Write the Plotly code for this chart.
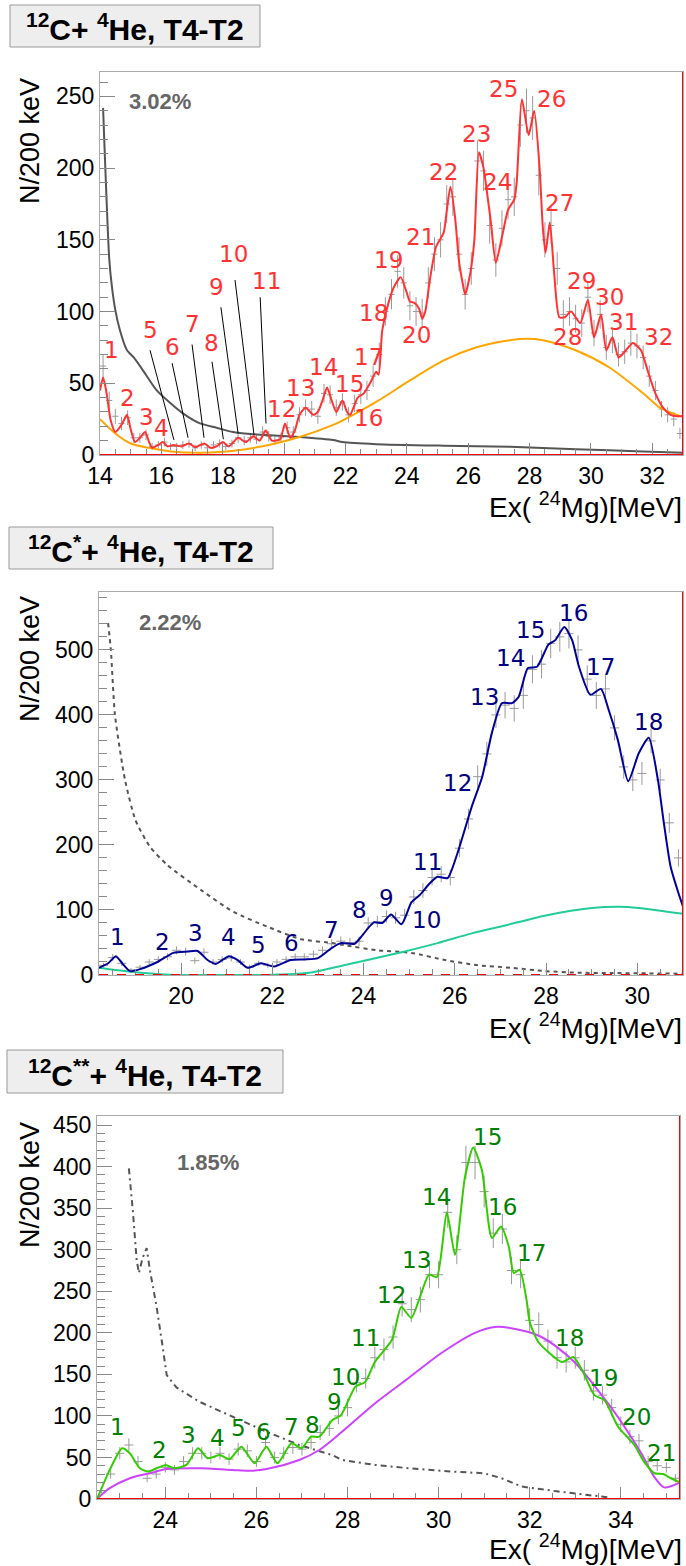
import numpy as np
import plotly.graph_objects as go

W, H = 686, 1566

# ---------------- Panel 1 : 12C + 4He ----------------
p1_bins = np.round(np.arange(14.1, 33.0, 0.2), 2)
p1_counts = [62, 38, 27, 22, 26, 12, 12, 14, 6, 7,
             9, 6, 6, 7, 8, 5, 7, 5, 7, 8,
             6, 8, 12, 10, 12, 11, 16, 13, 10, 12,
             19, 16, 28, 33, 32, 27, 43, 42, 33, 37,
             28, 36, 42, 45, 55, 70, 100, 112, 128, 120,
             104, 100, 99, 120, 140, 150, 175, 180, 140, 112,
             130, 205, 198, 160, 136, 158, 178, 180, 230, 240,
             235, 195, 150, 160, 130, 98, 100, 95, 92, 110,
             85, 98, 75, 80, 70, 72, 78, 76, 68, 55,
             45, 32, 28, 25, 15]
p1_fit_x = [14.0, 14.1, 14.2, 14.35, 14.5, 14.7, 14.88, 15.0, 15.14, 15.3, 15.47, 15.6, 15.7, 15.9,
            16.05, 16.2, 16.4, 16.65, 16.9, 17.1, 17.4, 17.6, 17.8, 18.0, 18.2, 18.5, 18.75, 19.0,
            19.2, 19.4, 19.6, 19.87, 20.03, 20.2, 20.35, 20.5, 20.7, 20.95, 21.1, 21.25, 21.4, 21.55,
            21.7, 21.9, 22.05, 22.15, 22.4, 22.6, 22.8, 23.0, 23.08, 23.2, 23.4, 23.6, 23.8, 24.0,
            24.1, 24.25, 24.4, 24.5, 24.6, 24.75, 24.95, 25.2, 25.3, 25.42, 25.57, 25.7, 25.8, 25.9,
            26.07, 26.2, 26.35, 26.5, 26.6, 26.74, 26.9, 27.1, 27.3, 27.5, 27.58, 27.75, 27.97, 28.15,
            28.33, 28.43, 28.52, 28.66, 28.8, 28.97, 29.15, 29.35, 29.65, 29.9, 30.1, 30.33, 30.5,
            30.7, 30.9, 31.1, 31.37, 31.63, 31.86, 32.1, 32.35, 32.6, 32.8, 33.0]
p1_fit_y = [45, 54, 45, 24, 16, 21, 28, 18, 9, 12, 16, 9, 5, 7,
            9, 6, 7, 6, 8, 5.5, 8, 5, 6, 9, 6, 12, 9, 13,
            10, 17, 10, 11, 22, 12, 17, 28, 33, 28, 30, 38, 47, 38,
            30, 38, 30, 28, 40, 43, 50, 58, 56, 87, 106, 118, 124, 113,
            107, 106, 102, 95, 100, 122, 145, 155, 170, 187, 166, 135, 122, 112,
            127, 150, 211, 200, 185, 162, 134, 152, 171, 178, 190, 248, 223, 240,
            199, 159, 141, 162, 127, 96, 96, 100, 92, 108, 82, 98, 73,
            82, 68, 72, 78, 73, 58, 43, 33, 28, 27, 27]
p1_bg_x = [14.0, 14.5, 15.0, 15.6, 16.3, 17.26, 18.56, 19.5, 20.5, 21.6, 21.9, 23.0, 24.1, 25.2,
           26.25, 27.36, 27.9, 28.44, 29.5, 30.6, 31.7, 32.25, 32.8, 33.0]
p1_bg_y = [25, 15, 8, 5, 2.5, 1.5, 3.5, 7, 12.5, 21, 24, 37, 52, 66,
           75, 80, 81, 80, 73, 61, 43, 33, 28, 27]
p1_gray_x = [14.1, 14.3, 14.39, 14.5, 14.65, 14.88, 15.1, 15.4, 15.85, 16.3, 16.7, 17.26, 17.8,
             18.33, 18.9, 19.4, 20.5, 21.6, 21.9, 23.0, 25.2, 27.36, 29.5, 31.7, 33.0]
p1_gray_y = [242, 137, 117, 101, 87, 73, 68, 59, 45, 36, 29, 22, 19,
             16, 14.6, 14, 12.6, 10.5, 9, 7.5, 6.5, 5.8, 4, 2.5, 1.5]
p1_labels = [str(i) for i in range(1, 33)]
p1_lab_x = [14.36, 14.88, 15.5, 16.02, 15.63, 16.35, 17.03, 17.62, 17.81, 18.34, 19.44, 19.93,
            20.52, 21.27, 22.12, 22.74, 22.74, 22.9, 23.39, 24.3, 24.43, 25.18, 26.26, 26.97,
            27.14, 28.73, 28.99, 29.22, 29.68, 30.62, 31.05, 32.19]
p1_lab_y = [73, 40, 26.5, 19, 87, 75, 91, 78, 117, 140, 121, 32,
            47, 61, 49.5, 26, 68, 99, 136, 84, 152, 197, 224, 190,
            255, 248, 176, 82, 121, 110, 93, 82]
# pointer lines for labels 5..11: (x_top, y_top, x_bottom, y_bottom)
p1_ptr = [(15.63, 73, 16.41, 10.5), (16.35, 64, 16.87, 12), (17.0, 77, 17.39, 12),
          (17.65, 65, 18.02, 11), (17.94, 103, 18.5, 15), (18.4, 122, 19.02, 14),
          (19.22, 110, 19.41, 22)]

# ---------------- Panel 2 : 12C* + 4He ----------------
p2_bins = np.round(np.arange(18.3, 31.0, 0.2), 2)
p2_counts = [15, 27, 18, 8, 12, 20, 24, 28, 38, 36,
             22, 35, 20, 24, 26, 20, 12, 18, 15, 20,
             24, 28, 28, 32, 38, 48, 52, 50, 52, 80,
             82, 90, 88, 92, 120, 130, 150, 155, 150, 195,
             240, 305, 340, 400, 415, 410, 430, 470, 478, 510,
             520, 525, 500, 455, 430, 440, 380, 320, 300, 310,
             360, 300, 234, 180]
p2_fit_x = [18.2, 18.4, 18.57, 18.72, 18.88, 19.1, 19.48, 19.83, 20.14, 20.36, 20.58, 20.76, 21.05,
            21.24, 21.46, 21.75, 22.04, 22.4, 22.7, 23.0, 23.29, 23.5, 23.8, 23.95, 24.12, 24.23,
            24.41, 24.6, 24.83, 25.05, 25.23, 25.45, 25.62, 25.84, 26.06, 26.37, 26.6, 26.81, 27.03,
            27.25, 27.4, 27.6, 27.8, 28.05, 28.2, 28.4, 28.57, 28.72, 28.97, 29.2, 29.37, 29.57,
            29.8, 30.03, 30.25, 30.45, 30.58, 30.73, 30.9, 31.0]
p2_fit_y = [11, 18, 29, 17, 6, 9, 20, 34, 36, 37, 23, 17, 29,
            23, 11, 18, 13, 23, 24, 26, 41, 49, 48, 59, 74, 81,
            80, 93, 78, 112, 123, 141, 151, 149, 188, 259, 305, 372, 418,
            418, 428, 472, 474, 508, 515, 535, 515, 474, 431, 440, 408, 362,
            298, 341, 365, 300, 234, 166, 126, 105]
p2_bg_x = [18.2, 18.88, 19.76, 20.5, 21.5, 22.04, 22.85, 23.57, 24.83, 25.62, 26.37, 27.03, 28.02,
           29.0, 29.6, 30.03, 31.0]
p2_bg_y = [11, 5, 0.5, 0, 0, 0.5, 4, 15, 35, 49, 64, 75, 92,
           103, 105, 103, 94]
p2_gray_x = [18.4, 18.46, 18.55, 18.77, 19.0, 19.32, 19.7, 20.43, 21.15, 21.9, 22.63, 23.35, 23.57,
             24.3, 25.05, 25.78, 26.5, 27.25, 27.98, 28.7, 29.45, 31.0]
p2_gray_y = [541, 500, 400, 300, 238, 197, 169, 131, 97, 74, 55, 49, 46,
             38, 34, 23, 15, 11, 6, 3.5, 3, 2]
p2_labels = [str(i) for i in range(1, 19)]
p2_lab_x = [18.6, 19.59, 20.31, 21.04, 21.7, 22.41, 23.29, 23.9, 24.5, 25.38, 25.4, 26.06,
            26.66, 27.21, 27.65, 28.6, 29.19, 30.25]
p2_lab_y = [58, 51, 65, 58, 46, 49, 69, 100, 118, 85, 174, 295,
            428, 488, 531, 557, 474, 389]

# ---------------- Panel 3 : 12C** + 4He ----------------
p3_bins = np.round(np.arange(22.6, 35.3, 0.2), 2)
p3_counts = [10, 30, 55, 65, 45, 25, 30, 38, 35, 45,
             55, 55, 50, 55, 48, 60, 58, 45, 68, 50,
             55, 62, 60, 68, 80, 85, 100, 110, 140, 145,
             170, 180, 195, 235, 228, 240, 270, 270, 345, 300,
             405, 405, 370, 320, 325, 275, 270, 215, 210, 190,
             170, 165, 170, 155, 130, 125, 110, 90, 75, 70,
             45, 40, 38, 25]
p3_fit_x = [22.5, 22.78, 23.05, 23.22, 23.44, 23.62, 23.81, 24.01, 24.2, 24.46, 24.72, 24.93, 25.19,
            25.41, 25.67, 25.96, 26.22, 26.46, 26.77, 26.99, 27.2, 27.38, 27.67, 27.86, 28.17, 28.39,
            28.6, 28.98, 29.18, 29.4, 29.59, 29.79, 29.96, 30.18, 30.36, 30.58, 30.76, 30.95, 31.17,
            31.37, 31.54, 31.65, 31.78, 31.93, 32.0, 32.19, 32.7, 32.96, 33.18, 33.42, 33.64, 33.94,
            34.17, 34.3, 34.51, 34.74, 34.93, 35.1, 35.3]
p3_fit_y = [0, 35, 61, 55, 37, 33, 37, 41, 37, 41, 61, 49, 53,
            48, 63, 43, 63, 43, 67, 61, 75, 75, 95, 101, 135, 141,
            165, 192, 231, 218, 243, 270, 267, 345, 294, 388, 423, 396, 314,
            328, 304, 272, 276, 240, 213, 189, 165, 171, 152, 125, 119, 87,
            73, 65, 45, 31, 30, 25, 20]
p3_bg_x = [22.5, 22.78, 23.22, 23.66, 24.03, 24.75, 25.48, 25.85, 26.22, 26.94, 27.38, 27.88, 28.6,
           29.35, 30.07, 30.8, 31.23, 31.54, 32.26, 32.98, 33.72, 34.08, 34.45, 34.73, 34.95, 35.3]
p3_bg_y = [0, 13, 25, 31, 36, 37, 35, 34, 36, 47, 59, 81, 115,
           146, 176, 200, 207, 206, 195, 165, 115, 87, 55, 27, 14, 20]
p3_gray_x = [23.2, 23.29, 23.37, 23.42, 23.5, 23.59, 23.66, 23.77, 23.81, 23.95, 24.03, 24.25, 24.75,
             25.48, 26.22, 26.94, 27.66, 27.88, 28.6, 29.35, 30.29, 31.0, 31.38, 31.82, 32.63, 33.72]
p3_gray_y = [398, 345, 288, 272, 290, 302, 276, 242, 231, 180, 149, 134, 117,
             99, 81, 65, 53, 47, 41, 37, 33, 31, 25, 15, 9, 2]
p3_labels = [str(i) for i in range(1, 22)]
p3_lab_x = [22.94, 23.88, 24.51, 25.15, 25.61, 26.15, 26.77, 27.23, 27.71, 27.95, 28.39, 28.96,
            29.52, 29.96, 31.08, 31.41, 32.04, 32.87, 33.62, 34.34, 34.89]
p3_lab_y = [87, 59, 77, 73, 86, 81, 87, 89, 117, 147, 194, 245,
            288, 363, 436, 352, 296, 194, 146, 99, 55]

titles = ["<sup>12</sup>C+ <sup>4</sup>He, T4-T2",
          "<sup>12</sup>C<sup>*</sup>+ <sup>4</sup>He, T4-T2",
          "<sup>12</sup>C<sup>**</sup>+ <sup>4</sup>He, T4-T2"]
percents = ["3.02%", "2.22%", "1.85%"]

# ---------------- layout geometry (pixels) ----------------
panels = [
    dict(left=100, right=683, top=72, bottom=455, xr=[14, 33], yr=[0, 267], ydt=50, ymin=10,
         box=(10, 5, 260, 47), pct=(160, 101), ytc=141, xtc=505, zero_dash="solid"),
    dict(left=99, right=683, top=592, bottom=975, xr=[18.2, 31.0], yr=[0, 589], ydt=100, ymin=20,
         box=(9, 527, 273, 569), pct=(170, 623), ytc=659, xtc=1026, zero_dash="dash"),
    dict(left=97, right=680, top=1116, bottom=1499, xr=[22.5, 35.3], yr=[0, 461], ydt=50, ymin=10,
         box=(7, 1050, 283, 1093), pct=(208, 1162), ytc=1185, xtc=1547, zero_dash="solid"),
]

def px(x, y):
    return x / W, 1 - y / H

fig = go.Figure()
layout = dict(width=W, height=H, margin=dict(l=0, r=0, t=0, b=0, pad=0, autoexpand=False),
              paper_bgcolor="white", plot_bgcolor="white", showlegend=False)
shapes, annots = [], []

series = [
    (p1_bins, p1_counts, p1_fit_x, p1_fit_y, p1_bg_x, p1_bg_y, p1_gray_x, p1_gray_y,
     p1_labels, p1_lab_x, p1_lab_y),
    (p2_bins, p2_counts, p2_fit_x, p2_fit_y, p2_bg_x, p2_bg_y, p2_gray_x, p2_gray_y,
     p2_labels, p2_lab_x, p2_lab_y),
    (p3_bins, p3_counts, p3_fit_x, p3_fit_y, p3_bg_x, p3_bg_y, p3_gray_x, p3_gray_y,
     p3_labels, p3_lab_x, p3_lab_y),
]
fit_colors = ["#ff3333", "#000099", "#33cc00"]
lab_colors = ["#ff3333", "#000080", "#008000"]
bg_colors = ["#ffa500", "#22cc99", "#cc44ff"]
gray_styles = [dict(dash="solid", shape="spline"), dict(dash="4px,4px", shape="spline"),
               dict(dash="6px,4px,2px,4px", shape="linear")]
LAB_FONT = "DejaVu Sans"
TXT_FONT = "Liberation Sans, Arial, sans-serif"

for i, (pn, s) in enumerate(zip(panels, series)):
    bins, counts, fx, fy, bx, by, gx, gy, labs, lx, ly = s
    n = "" if i == 0 else str(i + 1)
    xa, ya = "x" + n, "y" + n
    counts = np.array(counts, dtype=float)
    fig.add_trace(go.Scatter(
        x=bins, y=counts, mode="markers", xaxis=xa, yaxis=ya,
        marker=dict(size=1, color="rgba(0,0,0,0)"),
        error_x=dict(type="constant", value=0.1, thickness=1, width=0, color="#999999"),
        error_y=dict(type="data", array=np.sqrt(counts), thickness=1, width=0, color="#999999"),
        hoverinfo="skip"))
    fig.add_trace(go.Scatter(x=gx, y=gy, mode="lines", xaxis=xa, yaxis=ya,
                             line=dict(color="#555555", width=2, dash=gray_styles[i]["dash"],
                                       shape=gray_styles[i]["shape"], smoothing=0.6)))
    fig.add_trace(go.Scatter(x=bx, y=by, mode="lines", xaxis=xa, yaxis=ya,
                             line=dict(color=bg_colors[i], width=2, shape="spline", smoothing=0.8)))
    fig.add_trace(go.Scatter(x=fx, y=fy, mode="lines", xaxis=xa, yaxis=ya,
                             line=dict(color=fit_colors[i], width=2, shape="spline", smoothing=0.6)))

    x0, y0 = px(pn["left"], pn["bottom"])
    x1, y1 = px(pn["right"], pn["top"])
    axis_common = dict(showline=True, linecolor="#aaaaaa", linewidth=1, mirror=True,
                       ticks="inside", tickcolor="#888888", showgrid=False, zeroline=False,
                       automargin=False,
                       tickfont=dict(family=TXT_FONT, size=23, color="black"))
    layout["xaxis" + n] = dict(axis_common, domain=[x0, x1], range=pn["xr"], anchor=ya,
                               dtick=2, ticklen=12,
                               minor=dict(dtick=0.5, ticklen=6, ticks="inside", tickcolor="#888888"))
    layout["yaxis" + n] = dict(axis_common, domain=[y0, y1], range=pn["yr"], anchor=xa,
                               dtick=pn["ydt"], ticklen=15,
                               minor=dict(dtick=pn["ymin"], ticklen=8, ticks="inside", tickcolor="#888888"))
    # red right edge and zero line
    shapes.append(dict(type="line", xref=xa, yref=ya + " domain", x0=pn["xr"][1], x1=pn["xr"][1],
                       y0=0, y1=1, line=dict(color="red", width=2)))
    shapes.append(dict(type="line", xref=xa, yref=ya, x0=pn["xr"][0], x1=pn["xr"][1], y0=0, y1=0,
                       line=dict(color="red", width=2, dash=pn["zero_dash"])))
    # title box
    bxl, byt, bxr, byb = pn["box"]
    a0, b0 = px(bxl, byb)
    a1, b1 = px(bxr, byt)
    shapes.append(dict(type="rect", xref="paper", yref="paper", x0=a0, x1=a1, y0=b0, y1=b1,
                       fillcolor="#eeeeee", line=dict(color="#999999", width=1), layer="below"))
    cx, cy = px((bxl + bxr) / 2, (byt + byb) / 2 + 1)
    annots.append(dict(xref="paper", yref="paper", x=cx, y=cy, text="<b>" + titles[i] + "</b>",
                       showarrow=False, xanchor="center", yanchor="middle",
                       font=dict(family=TXT_FONT, size=30, color="black")))
    # percent
    pxx, pyy = px(*pn["pct"])
    annots.append(dict(xref="paper", yref="paper", x=pxx, y=pyy, text="<b>" + percents[i] + "</b>",
                       showarrow=False, xanchor="center", yanchor="middle",
                       font=dict(family=TXT_FONT, size=22, color="#666666")))
    # axis titles
    tx, ty = px(30, pn["ytc"])
    annots.append(dict(xref="paper", yref="paper", x=tx, y=ty, text="N/200 keV", textangle=-90,
                       showarrow=False, xanchor="center", yanchor="middle",
                       font=dict(family=TXT_FONT, size=27, color="black")))
    tx, ty = px(684, pn["xtc"])
    annots.append(dict(xref="paper", yref="paper", x=tx, y=ty, text="Ex( <sup>24</sup>Mg)[MeV]",
                       showarrow=False, xanchor="right", yanchor="middle",
                       font=dict(family=TXT_FONT, size=28, color="black")))
    # peak labels
    for t, lxx, lyy in zip(labs, lx, ly):
        annots.append(dict(xref=xa, yref=ya, x=lxx, y=lyy, text=t, showarrow=False,
                           xanchor="center", yanchor="middle",
                           font=dict(family=LAB_FONT, size=23, color=lab_colors[i])))

for (xt, yt, xb, yb) in p1_ptr:
    shapes.append(dict(type="line", xref="x", yref="y", x0=xt, y0=yt, x1=xb, y1=yb,
                       line=dict(color="black", width=1)))

layout["shapes"] = shapes
layout["annotations"] = annots
fig.update_layout(**layout)
fig.write_html("out.html", config={"displayModeBar": False},
               post_script="document.body.style.margin='0';document.body.style.overflow='hidden';")
